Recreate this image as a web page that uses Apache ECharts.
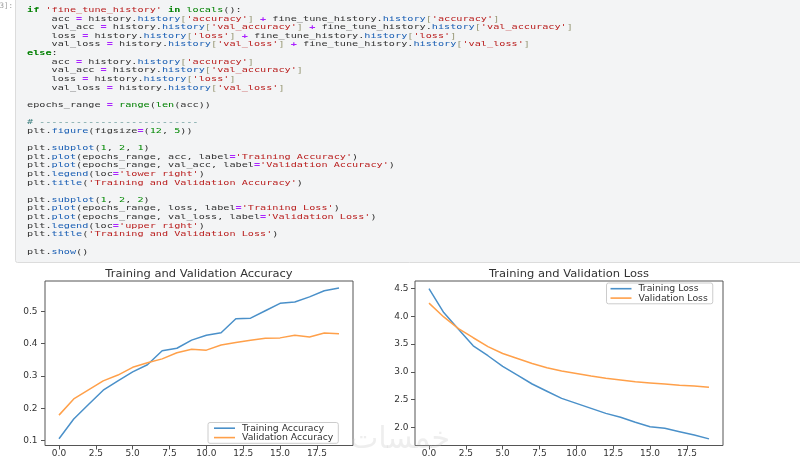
<!DOCTYPE html>
<html>
<head>
<meta charset="utf-8">
<script src="https://cdn.jsdelivr.net/npm/echarts@6/dist/echarts.min.js"></script>
<style>
html,body{margin:0;padding:0;background:#fff;}
#chart{width:800px;height:460px;}
</style>
</head>
<body>
<div id="chart"></div>
<script>
// ---------- data ----------
const epochs = [0,1,2,3,4,5,6,7,8,9,10,11,12,13,14,15,16,17,18,19];
const trainAcc = [0.106,0.167,0.212,0.256,0.285,0.313,0.335,0.378,0.386,0.411,0.426,0.434,0.477,0.479,0.502,0.525,0.529,0.545,0.564,0.572];
const valAcc   = [0.179,0.229,0.257,0.285,0.303,0.327,0.341,0.353,0.372,0.383,0.380,0.396,0.404,0.411,0.417,0.418,0.426,0.421,0.433,0.431];
const trainLoss = [4.50,4.07,3.77,3.47,3.29,3.10,2.94,2.78,2.65,2.52,2.43,2.34,2.25,2.18,2.09,2.01,1.98,1.92,1.86,1.79];
const valLoss   = [4.24,3.99,3.78,3.615,3.455,3.33,3.24,3.15,3.075,3.015,2.97,2.925,2.885,2.852,2.82,2.80,2.78,2.757,2.743,2.72];
const xTicks = [0,2.5,5,7.5,10,12.5,15,17.5];
const accTicks = [0.1,0.2,0.3,0.4,0.5];
const lossTicks = [2.0,2.5,3.0,3.5,4.0,4.5];
const titles = ['Training and Validation Accuracy','Training and Validation Loss'];
const accNames = ['Training Accuracy','Validation Accuracy'];
const lossNames = ['Training Loss','Validation Loss'];
const promptText = '[3]:';
const watermark = 'خمسات';
const codeLines = [
"if 'fine_tune_history' in locals():",
"    acc = history.history['accuracy'] + fine_tune_history.history['accuracy']",
"    val_acc = history.history['val_accuracy'] + fine_tune_history.history['val_accuracy']",
"    loss = history.history['loss'] + fine_tune_history.history['loss']",
"    val_loss = history.history['val_loss'] + fine_tune_history.history['val_loss']",
"else:",
"    acc = history.history['accuracy']",
"    val_acc = history.history['val_accuracy']",
"    loss = history.history['loss']",
"    val_loss = history.history['val_loss']",
"",
"epochs_range = range(len(acc))",
"",
"# --------------------------",
"plt.figure(figsize=(12, 5))",
"",
"plt.subplot(1, 2, 1)",
"plt.plot(epochs_range, acc, label='Training Accuracy')",
"plt.plot(epochs_range, val_acc, label='Validation Accuracy')",
"plt.legend(loc='lower right')",
"plt.title('Training and Validation Accuracy')",
"",
"plt.subplot(1, 2, 2)",
"plt.plot(epochs_range, loss, label='Training Loss')",
"plt.plot(epochs_range, val_loss, label='Validation Loss')",
"plt.legend(loc='upper right')",
"plt.title('Training and Validation Loss')",
"",
"plt.show()"
];

// ---------- styling ----------
const MONO = '"DejaVu Sans Mono", "Liberation Mono", monospace';
const SANS = '"DejaVu Sans", "Liberation Sans", sans-serif';
const CODE_FS = 10.2;
const BLUE = '#4a90c9', ORANGE = '#ffa04a';
const AX = '#555';

function rs(color, extra){ return Object.assign({fill: color, fontFamily: MONO, fontSize: CODE_FS}, extra||{}); }
const richStyles = {
  d: rs('#333333'),
  k: rs('#008000', {fontWeight:'bold'}),
  b: rs('#008000'),
  s: rs('#BA2121'),
  n: rs('#008800'),
  o: rs('#AA22FF', {fontWeight:'bold'}),
  p: rs('#1a5fb4'),
  r: rs('#999977'),
  c: rs('#408080', {fontStyle:'italic'})
};
const KW = ['if','in','else'], BI = ['locals','range','len'];
function tokenize(line){
  const out = []; let i = 0; let buf = '';
  const flush = () => { if (buf) { out.push(['d', buf]); buf = ''; } };
  while (i < line.length) {
    const c = line[i];
    if (c === '#') { flush(); out.push(['c', line.slice(i)]); break; }
    if (c === "'") { flush(); const j = line.indexOf("'", i+1); out.push(['s', line.slice(i, j+1)]); i = j+1; continue; }
    if (/[A-Za-z_]/.test(c)) {
      let j = i; while (j < line.length && /\w/.test(line[j])) j++;
      const w = line.slice(i, j);
      let t = null;
      if (KW.includes(w)) t = 'k'; else if (BI.includes(w)) t = 'b'; else if (i > 0 && line[i-1] === '.') t = 'p';
      if (t) { flush(); out.push([t, w]); } else buf += w;
      i = j; continue;
    }
    if (/[0-9]/.test(c)) { flush(); let j = i; while (j < line.length && /[0-9]/.test(line[j])) j++; out.push(['n', line.slice(i, j)]); i = j; continue; }
    if (c === '=' || c === '+') { flush(); out.push(['o', c]); i++; continue; }
    if (c === '[' || c === ']') { flush(); out.push(['r', c]); i++; continue; }
    buf += c; i++;
  }
  flush();
  return out.map(t => '{' + t[0] + '|' + t[1] + '}').join('');
}

const LINE0 = 10, LINE_STEP = 8.63, CODE_X = 27, SY = 0.72;
const graphics = [];
graphics.push({
  type: 'rect', z: 0,
  shape: {x: 15.5, y: -6, width: 800, height: 268.5, r: 2},
  style: {fill: '#f3f4f5', stroke: '#dcdcdc', lineWidth: 1}
});
graphics.push({
  type: 'text', z: 1, x: 13, y: 6.5,
  style: {text: promptText, fill: '#a0a0a0', fontFamily: MONO, fontSize: 7.5, align: 'right', verticalAlign: 'middle'}
});
codeLines.forEach((ln, i) => {
  if (!ln) return;
  graphics.push({
    type: 'text', z: 1, x: CODE_X, y: LINE0 + i * LINE_STEP, scaleY: SY,
    style: {text: tokenize(ln), rich: richStyles, fontFamily: MONO, fontSize: CODE_FS, fill: '#333', align: 'left', verticalAlign: 'middle'}
  });
});
// titles
graphics.push({
  type: 'text', z: 5, x: 199, y: 274.5, scaleY: 0.85,
  style: {text: titles[0], fill: '#333', fontFamily: SANS, fontSize: 11.5, align: 'center', verticalAlign: 'middle'}
});
graphics.push({
  type: 'text', z: 5, x: 569, y: 274.5, scaleY: 0.85,
  style: {text: titles[1], fill: '#333', fontFamily: SANS, fontSize: 11.5, align: 'center', verticalAlign: 'middle'}
});
// watermark
graphics.push({
  type: 'text', z: 50, x: 400, y: 440,
  style: {text: watermark, fill: 'rgba(200,200,200,0.3)', fontFamily: SANS, fontSize: 30, align: 'center', verticalAlign: 'middle'}
});

function fmt(v){ return Number(v).toFixed(1); }
function xAxis(gi){
  return {
    type: 'value', gridIndex: gi, min: -0.95, max: 19.95, position: 'bottom',
    axisLine: {show: false, onZero: false}, splitLine: {show: false},
    axisTick: {show: true, inside: false, length: 4, lineStyle: {color: AX, width: 1}, customValues: xTicks},
    axisLabel: {show: true, margin: 4, color: '#333', fontFamily: SANS, fontSize: 9, formatter: fmt, customValues: xTicks}
  };
}
function yAxis(gi, min, max, ticks, margin){
  return {
    type: 'value', gridIndex: gi, min: min, max: max, position: 'left',
    axisLine: {show: false, onZero: false}, splitLine: {show: false},
    axisTick: {show: true, inside: false, length: 4, lineStyle: {color: AX, width: 1}, customValues: ticks},
    axisLabel: {show: true, margin: margin, color: '#333', fontFamily: SANS, fontSize: 9, formatter: fmt, customValues: ticks}
  };
}
function pairs(arr){ return epochs.map((e, i) => [e, arr[i]]); }
function line(name, arr, color, gi){
  return {
    type: 'line', name: name, xAxisIndex: gi, yAxisIndex: gi, data: pairs(arr),
    symbol: 'none', smooth: false, animation: false,
    lineStyle: {color: color, width: 1.5}, itemStyle: {color: color}
  };
}
const legendCommon = {
  orient: 'vertical', backgroundColor: '#fff', borderColor: '#cccccc', borderWidth: 1, borderRadius: 2,
  itemWidth: 21, itemHeight: 1.6, itemGap: 0, icon: 'rect',
  textStyle: {fontFamily: SANS, fontSize: 9.3, color: '#333', lineHeight: 9.4, padding: [0,0,0,2]},
  selectedMode: false
};

const chart = echarts.init(document.getElementById('chart'), null, {renderer: 'canvas'});
chart.setOption({
  animation: false,
  backgroundColor: '#fff',
  grid: [
    {left: 45, top: 281, width: 308, height: 164.5, show: true, borderColor: AX, borderWidth: 1, backgroundColor: '#fff', containLabel: false},
    {left: 415, top: 281, width: 308, height: 164.5, show: true, borderColor: AX, borderWidth: 1, backgroundColor: '#fff', containLabel: false}
  ],
  xAxis: [xAxis(0), xAxis(1)],
  yAxis: [yAxis(0, 0.085, 0.594, accTicks, 7.5), yAxis(1, 1.67, 4.639, lossTicks, 6.5)],
  legend: [
    Object.assign({}, legendCommon, {data: accNames, left: 208, top: 422.5, padding: [1,5,1,6]}),
    Object.assign({}, legendCommon, {data: lossNames, left: 606.5, top: 283, padding: [1,5,1,4]})
  ],
  graphic: graphics,
  series: [
    line(accNames[0], trainAcc, BLUE, 0),
    line(accNames[1], valAcc, ORANGE, 0),
    line(lossNames[0], trainLoss, BLUE, 1),
    line(lossNames[1], valLoss, ORANGE, 1)
  ]
});
</script>
</body>
</html>
